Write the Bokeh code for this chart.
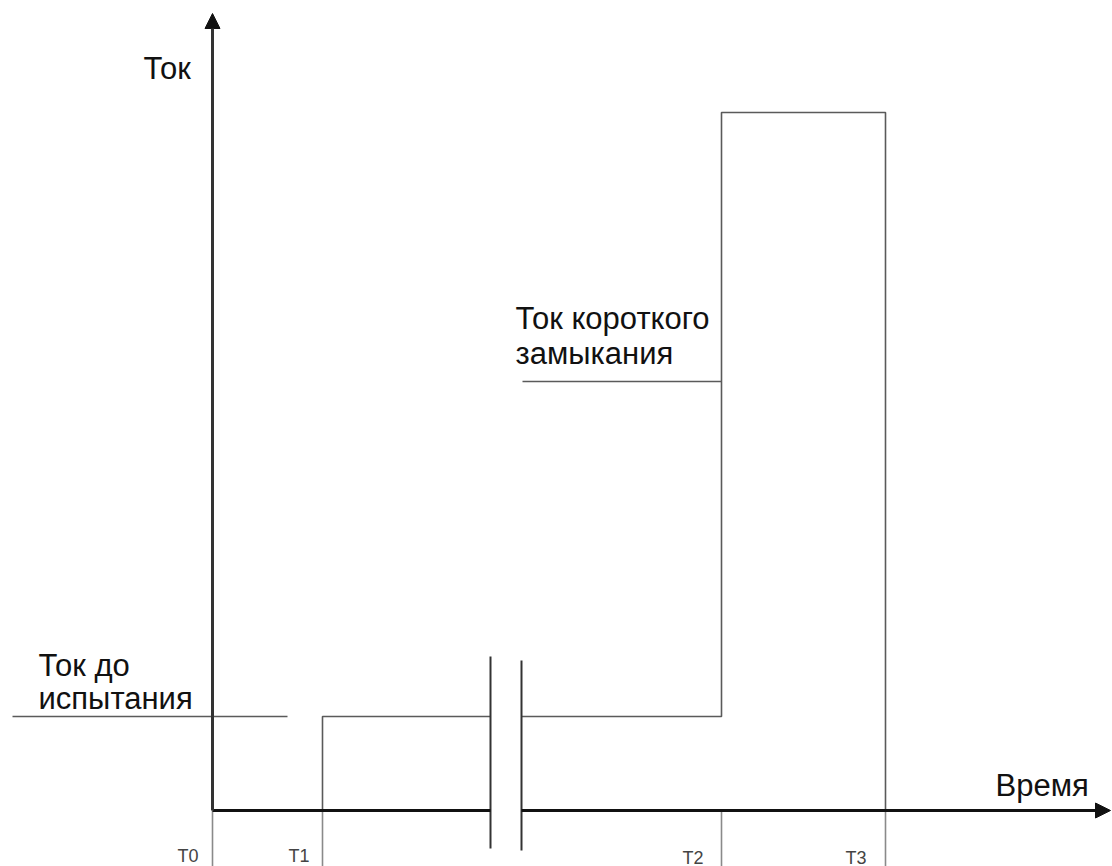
from bokeh.plotting import figure
from bokeh.models import Arrow, NormalHead, Range1d
from bokeh.core.properties import value
from bokeh.embed import file_html
from bokeh.resources import INLINE

# --- data (schematic units) ---
time_names = ["T0", "T1", "T2", "T3"]
time_values = [0, 110, 509, 673]          # T0, T1, T2, T3
break_times = [278, 309]                  # axis break (left, right)
current_pre = 94                          # Ток до испытания
current_sc = 698                          # Ток короткого замыкания (peak)
sc_leader_level = 429                     # leader line for SC label
axis_ends = [898, 797]                    # time axis end, current axis end

T0, T1, T2, T3 = time_values
BL, BR = break_times

p = figure(width=1112, height=866, output_backend="svg", toolbar_location=None,
           x_range=Range1d(-212, 900), y_range=Range1d(-56, 810),
           min_border=0, background_fill_color="white", border_fill_color="white")
p.axis.visible = False
p.grid.visible = False
p.outline_line_color = None

font = value("Liberation Sans")
below = -60

# tick drop lines under the time axis
for t in time_values:
    p.line([t, t], [0, below], line_color="#8a8a8a", line_width=1.6)

# current trace
p.line([T1, T1, BL], [0, current_pre, current_pre], line_color="#5a5a5a", line_width=1.6)
p.line([BR, T2, T2, T3, T3], [current_pre, current_pre, current_sc, current_sc, 0],
       line_color="#5a5a5a", line_width=1.6)

# axis break marks
p.line([BL, BL], [154, -38], line_color="#333333", line_width=2)
p.line([BR, BR], [150, -40], line_color="#333333", line_width=2)

# leader lines for labels
p.line([-200, 75], [current_pre, current_pre], line_color="#5a5a5a", line_width=1.4)
p.line([BR + 1, T2], [sc_leader_level, sc_leader_level], line_color="#5a5a5a", line_width=1.4)

# axes with arrows
p.line([T0, BL], [0, 0], line_color="#111111", line_width=3)
p.add_layout(Arrow(x_start=BR, y_start=0, x_end=axis_ends[0], y_end=0,
                   line_color="#111111", line_width=3,
                   end=NormalHead(size=15, fill_color="#111111", line_color="#111111")))
p.add_layout(Arrow(x_start=0, y_start=0, x_end=0, y_end=axis_ends[1],
                   line_color="#333333", line_width=3,
                   end=NormalHead(size=15, fill_color="#111111", line_color="#111111")))

# labels
big = "31px"
p.text(x=[-69], y=[742], text=["Ток"], text_font=font, text_font_size=big,
       text_color="#111111", text_baseline="alphabetic")
p.text(x=[783], y=[25], text=["Время"], text_font=font, text_font_size=big,
       text_color="#111111", text_baseline="alphabetic")
p.text(x=[-174, -174], y=[145, 112], text=["Ток до", "испытания"], text_font=font,
       text_font_size=big, text_color="#111111", text_baseline="alphabetic")
p.text(x=[303, 303], y=[492, 457], text=["Ток короткого", "замыкания"], text_font=font,
       text_font_size=big, text_color="#111111", text_baseline="alphabetic")

tick_label_x = [-35, 76, 470, 633]
tick_label_y = [-45, -45, -47, -47]
p.text(x=tick_label_x, y=tick_label_y, text=time_names, text_font=font,
       text_font_size="18px", text_color="#444444", text_baseline="alphabetic")

open("out.html", "w").write(file_html(p, INLINE))
